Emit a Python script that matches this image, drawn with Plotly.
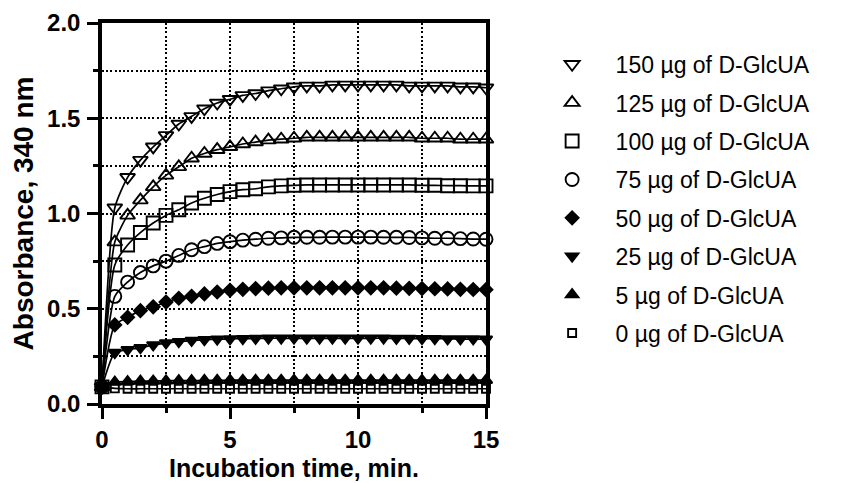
import plotly.graph_objects as go

time_min = [0, 0.5, 1, 1.5, 2, 2.5, 3, 3.5, 4, 4.5, 5, 5.5, 6, 6.5, 7, 7.5,
            8, 8.5, 9, 9.5, 10, 10.5, 11, 11.5, 12, 12.5, 13, 13.5, 14, 14.5, 15]

abs_150 = [0.09, 1.03, 1.19, 1.28, 1.35, 1.41, 1.47, 1.51, 1.55, 1.58, 1.60, 1.62, 1.63, 1.645, 1.655, 1.665,
           1.67, 1.67, 1.675, 1.675, 1.675, 1.675, 1.675, 1.675, 1.67, 1.67, 1.67, 1.67, 1.665, 1.665, 1.66]
abs_125 = [0.09, 0.85, 0.99, 1.07, 1.14, 1.20, 1.245, 1.29, 1.315, 1.335, 1.35, 1.365, 1.375, 1.385, 1.39, 1.395,
           1.40, 1.40, 1.40, 1.40, 1.40, 1.40, 1.40, 1.40, 1.40, 1.395, 1.395, 1.395, 1.39, 1.39, 1.39]
abs_100 = [0.09, 0.73, 0.835, 0.90, 0.95, 0.99, 1.02, 1.055, 1.08, 1.10, 1.115, 1.125, 1.13, 1.14, 1.145, 1.148,
           1.15, 1.15, 1.15, 1.15, 1.15, 1.15, 1.15, 1.15, 1.15, 1.148, 1.148, 1.146, 1.146, 1.145, 1.145]
abs_75 = [0.09, 0.565, 0.64, 0.69, 0.725, 0.75, 0.78, 0.81, 0.826, 0.843, 0.852, 0.86, 0.865, 0.87, 0.872, 0.875,
          0.875, 0.875, 0.876, 0.876, 0.876, 0.876, 0.875, 0.875, 0.874, 0.872, 0.87, 0.87, 0.868, 0.866, 0.865]
abs_50 = [0.09, 0.415, 0.455, 0.49, 0.51, 0.535, 0.555, 0.565, 0.578, 0.588, 0.597, 0.602, 0.606, 0.608, 0.61, 0.61,
          0.61, 0.61, 0.61, 0.61, 0.61, 0.61, 0.61, 0.608, 0.607, 0.606, 0.605, 0.604, 0.602, 0.601, 0.60]
abs_25 = [0.09, 0.27, 0.285, 0.295, 0.31, 0.32, 0.327, 0.333, 0.337, 0.34, 0.342, 0.343, 0.344, 0.345, 0.345, 0.345,
          0.345, 0.345, 0.345, 0.345, 0.345, 0.345, 0.345, 0.344, 0.344, 0.343, 0.343, 0.342, 0.341, 0.341, 0.34]
abs_5 = [0.09, 0.115, 0.118, 0.12, 0.121, 0.122, 0.123, 0.123, 0.124, 0.124, 0.125, 0.125, 0.125, 0.125, 0.125, 0.125,
         0.125, 0.125, 0.125, 0.125, 0.125, 0.125, 0.125, 0.125, 0.125, 0.125, 0.125, 0.125, 0.125, 0.125, 0.125]
abs_0 = [0.09, 0.082, 0.08, 0.08, 0.08, 0.08, 0.08, 0.08, 0.08, 0.08, 0.08, 0.08, 0.08, 0.08, 0.08, 0.08,
         0.08, 0.08, 0.08, 0.08, 0.08, 0.08, 0.08, 0.08, 0.08, 0.08, 0.08, 0.08, 0.08, 0.08, 0.08]

series_names = ["150 µg of D-GlcUA", "125 µg of D-GlcUA", "100 µg of D-GlcUA", "75 µg of D-GlcUA",
                "50 µg of D-GlcUA", "25 µg of D-GlcUA", "5 µg of D-GlcUA", "0 µg of D-GlcUA"]
series_values = [abs_150, abs_125, abs_100, abs_75, abs_50, abs_25, abs_5, abs_0]
series_symbols = ["triangle-down-open", "triangle-up-open", "square-open", "circle-open",
                  "diamond", "triangle-down", "triangle-up", "square-open"]
series_sizes = [13, 13, 13, 13, 10, 11, 11, 8]

x_title = "Incubation time, min."
y_title = "Absorbance, 340 nm"

FONT = "Liberation Sans, Arial, sans-serif"
GRID_DASH = "2px,2.2px"
fig = go.Figure()

# fitted curves (no legend)
for name, vals in zip(series_names, series_values):
    fig.add_trace(go.Scatter(
        x=time_min, y=vals, mode="lines", showlegend=False, hoverinfo="skip",
        line=dict(color="black", width=1.7, shape="spline", smoothing=0.6),
        cliponaxis=False,
    ))

# data points
for i, (name, vals, sym, sz) in enumerate(zip(series_names, series_values, series_symbols, series_sizes)):
    fig.add_trace(go.Scatter(
        x=time_min, y=vals, mode="markers", name=name, legendgroup=f"g{i}",
        marker=dict(symbol=sym, size=sz, color="black", line=dict(color="black", width=1.9)),
        cliponaxis=False,
    ))

axis_common = dict(
    showline=True, linecolor="black", linewidth=3.5, mirror=True,
    ticks="outside", tickcolor="black", tickwidth=3, ticklen=11,
    tickfont=dict(family=FONT, size=24, color="black", weight="bold"),
    showgrid=True, gridcolor="black", gridwidth=2, griddash=GRID_DASH,
    zeroline=False, automargin=False,
)

fig.update_xaxes(
    range=[0, 15], tickvals=[0, 5, 10, 15], ticktext=["0", "5", "10", "15"],
    ticklabelstandoff=0,
    minor=dict(tickvals=[2.5, 7.5, 12.5], ticks="outside", ticklen=5, tickwidth=3, tickcolor="black",
               showgrid=True, gridcolor="black", gridwidth=2, griddash=GRID_DASH),
    **axis_common,
)
fig.update_yaxes(
    range=[0, 2], tickvals=[0, 0.5, 1.0, 1.5, 2.0], ticktext=["0.0", "0.5", "1.0", "1.5", "2.0"],
    ticklabelstandoff=2,
    minor=dict(tickvals=[0.25, 0.75, 1.25, 1.75], ticks="outside", ticklen=5, tickwidth=3, tickcolor="black",
               showgrid=True, gridcolor="black", gridwidth=2, griddash=GRID_DASH),
    title=dict(text=y_title, font=dict(family=FONT, size=28, color="black", weight="bold"),
               standoff=12),
    **axis_common,
)

fig.add_annotation(
    text=x_title, xref="paper", yref="paper", x=0.5, y=-0.168,
    xanchor="center", yanchor="middle", showarrow=False,
    font=dict(family=FONT, size=25, color="black", weight="bold"),
)

fig.update_layout(
    width=855, height=483,
    margin=dict(l=94, r=377, t=15, b=87),
    paper_bgcolor="white", plot_bgcolor="white",
    legend=dict(
        x=1.111, y=0.948, xanchor="left", yanchor="top",
        font=dict(family=FONT, size=23, color="black"),
        tracegroupgap=5.5, itemwidth=77, bgcolor="rgba(0,0,0,0)",
    ),
)

fig.write_html("out.html")
